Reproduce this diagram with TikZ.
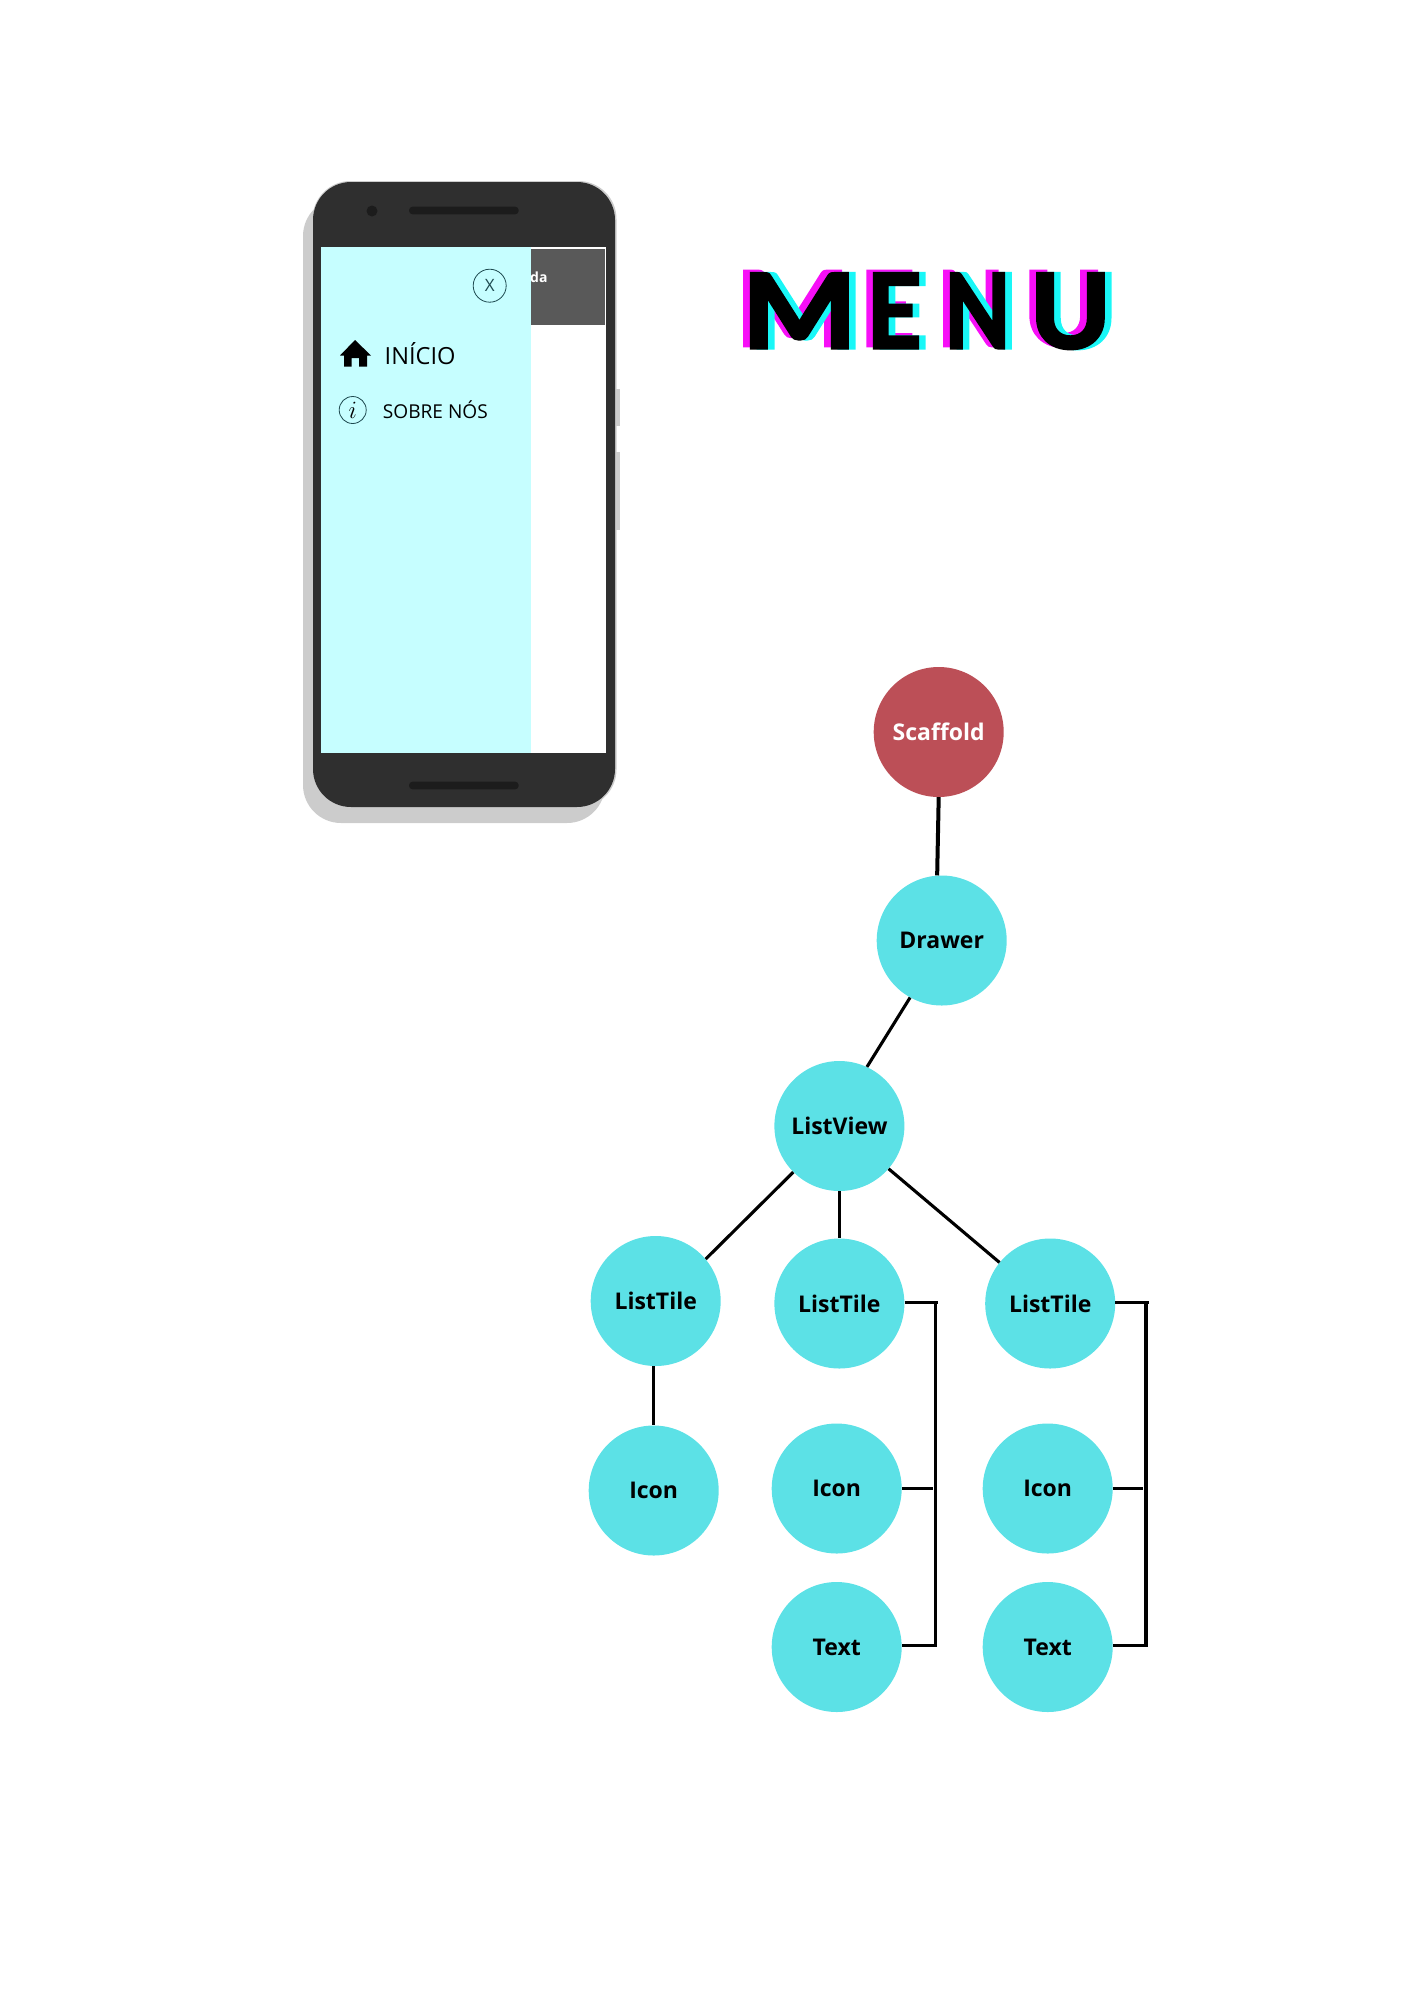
\documentclass[tikz,border=0pt]{standalone}
\usepackage{graphicx}
\usepackage{fontspec}
\setmainfont{Open Sans}
\newfontfamily\titlefont[FakeBold=3]{Lato}
\definecolor{nodecyan}{HTML}{5CE1E6}
\definecolor{scaf}{HTML}{BC4F57}
\definecolor{drawerbg}{HTML}{C6FEFF}
\definecolor{phonebody}{HTML}{2F2F2F}
\definecolor{slot}{HTML}{1C1C1C}
\definecolor{shadowgrey}{HTML}{CCCCCC}
\definecolor{bar}{HTML}{595959}
\definecolor{thinline}{HTML}{1E4A50}
\definecolor{titlemag}{HTML}{F70FF7}
\definecolor{titlecyan}{HTML}{19F7F7}
\newcommand{\menuword}{\scalebox{1.18}[1]{M}\kern10pt\scalebox{.92}[1]{E}\kern23pt\scalebox{.84}[1]{N}\kern19pt\scalebox{1.06}[1]{U}}
\tikzset{
  treenode/.style={circle,fill=nodecyan,minimum size=130pt,inner sep=0pt,text=black,font=\fontsize{23}{26}\selectfont\bfseries},
  link/.style={draw=black,line width=3.1pt},
  bracket/.style={draw=black,line width=3.2pt},
  titletxt/.style={anchor=base west,inner sep=0pt,font=\fontsize{103}{110}\titlefont\bfseries},
}
\begin{document}
\begin{tikzpicture}[x=1pt,y=-1pt]
\useasboundingbox (0,0) rectangle (1414,2000);
% phone
\fill[shadowgrey,rounded corners=38pt] (303,198) rectangle (605,823);
\fill[shadowgrey] (614,389) rectangle (619.5,426);
\fill[shadowgrey] (614,452) rectangle (619.5,530);
\fill[shadowgrey,rounded corners=38pt] (312.5,181) rectangle (616.5,807.5);
\fill[phonebody,rounded corners=38pt] (313,182) rectangle (615,807);
\fill[white] (321,247) rectangle (606,753);
\fill[bar] (525,249) rectangle (605,325);
\node[anchor=base west,inner sep=0pt,text=white,font=\fontsize{14}{16}\selectfont\bfseries] (dat) at (530,282) {da};
\fill[drawerbg] (321,247) rectangle (531,753);
\fill[slot,rounded corners=3.5pt] (409,206.7) rectangle (518.7,214.3);
\fill[slot,rounded corners=3.5pt] (409,781.7) rectangle (518.7,789.3);
\fill[slot] (372,211) circle (5.5);
% drawer contents
\node[circle,draw=thinline,line width=0.8pt,minimum size=33pt,inner sep=0pt,font=\fontsize{17}{20}\selectfont,text=thinline] (closebtn) at (489.7,285.7) {X};
\fill[black] (355,340) -- (371,355.5) -- (367,355.5) -- (367,366.7) -- (359,366.7) -- (359,358) -- (351.7,358) -- (351.7,366.7) -- (344,366.7) -- (344,355.5) -- (340,355.5) -- cycle;
\node[anchor=base west,inner sep=0pt,font=\fontsize{23.6}{26}\selectfont] (inicio) at (384.5,364) {INÍCIO};
\node[circle,draw=thinline,line width=0.8pt,minimum size=27pt,inner sep=0pt,font=\fontsize{25}{26}\selectfont] (infobtn) at (352.7,410) {$i$};
\node[anchor=base west,inner sep=0pt,font=\fontsize{19.1}{24}\selectfont] (sobre) at (382.7,418) {SOBRE NÓS};
% title
\node[titletxt,text=titlemag] (t1) at (735,345.7) {\menuword};
\node[titletxt,text=titlecyan] (t2) at (748.4,348) {\menuword};
\node[titletxt,text=black] (t3) at (741.7,348) {\menuword};
% tree
\node[treenode,fill=scaf,text=white] (scaffold) at (938.7,732) {Scaffold};
\node[treenode] (drawer) at (941.7,940.5) {Drawer};
\node[treenode] (listview) at (839.4,1126) {ListView};
\node[treenode] (lt1) at (655.7,1301) {ListTile};
\node[treenode] (lt2) at (839.4,1303.5) {ListTile};
\node[treenode] (lt3) at (1050.2,1303.5) {ListTile};
\node[treenode] (ic1) at (653.7,1490.5) {Icon};
\node[treenode] (ic2) at (836.7,1488.5) {Icon};
\node[treenode] (ic3) at (1047.7,1488.5) {Icon};
\node[treenode] (tx2) at (836.7,1647) {Text};
\node[treenode] (tx3) at (1047.7,1647) {Text};
\draw[link,line width=4pt] (scaffold.270) -- (drawer.94);
\draw[link] (drawer.241) -- (listview.65);
\draw[link] (listview.225) -- (lt1.40);
\draw[link] (listview.south) -- (lt2.north);
\draw[link] (listview.319) -- (lt3.141);
\draw[link] (ic1.north |- lt1.south) -- (ic1.north);
\coordinate (b2t) at (938,1302.7);
\coordinate (b2m) at (933,1488.7);
\coordinate (b2b) at (935.5,1645.7);
\coordinate (b3t) at (1149,1302.7);
\coordinate (b3m) at (1143,1488.7);
\coordinate (b3b) at (1146,1645.7);
\draw[bracket] (lt2.east |- b2t) -- (b2t);
\draw[bracket] (b2t -| b2b) -- (b2b) -- (tx2.east |- b2b);
\draw[bracket] (ic2.east |- b2m) -- (b2m);
\draw[bracket] (lt3.east |- b3t) -- (b3t);
\draw[bracket] (b3t -| b3b) -- (b3b) -- (tx3.east |- b3b);
\draw[bracket] (ic3.east |- b3m) -- (b3m);
\end{tikzpicture}
\end{document}
